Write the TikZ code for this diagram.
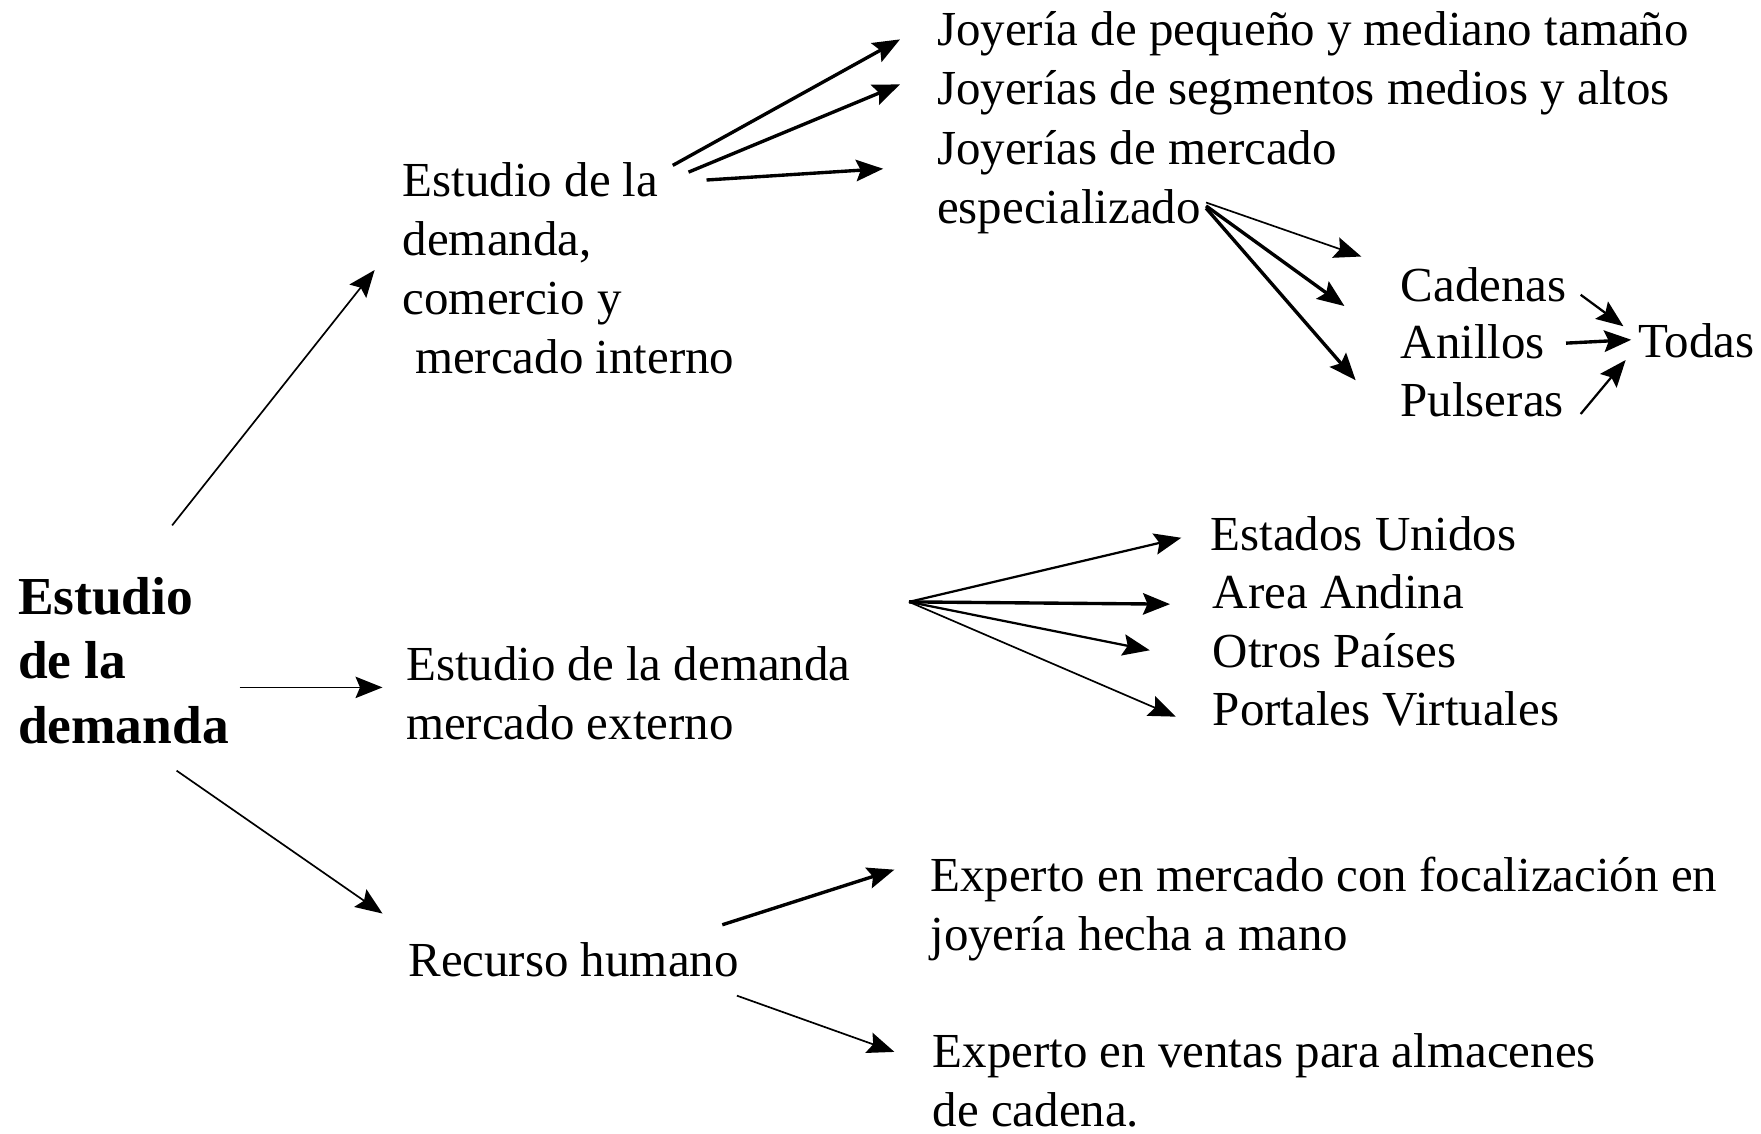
\documentclass[tikz,border=0pt]{standalone}
\usepackage{fontspec}
\setmainfont{Liberation Serif}
\usepackage{tikz}
\usetikzlibrary{arrows,arrows.meta}

\begin{document}
\begin{tikzpicture}[x=1pt,y=-1pt,->,>={Stealth[length=24pt,width=19pt,inset=4pt]},
                    line width=2pt]
  \tikzstyle{txt}=[anchor=base west,inner sep=0pt,align=left,
                   font=\fontsize{43.5}{52.5}\selectfont]
  \tikzstyle{titulo}=[txt,font=\fontsize{47.5}{57.5}\selectfont\bfseries]
  \tikzstyle{fino}=[line width=1.5pt]
  \tikzstyle{grueso}=[line width=3pt]

  \useasboundingbox (0,0) rectangle (1565.3,1007.1);

  % textos (base = ultima linea)
  \node[titulo] (dem) at (15,661) {Estudio\\de la\\demanda};
  \node[txt] (int) at (357,332) {Estudio de la\\demanda,\\comercio y\\\hspace*{11pt}mercado interno};
  \node[txt] (ext) at (360,657) {Estudio de la demanda\\mercado externo};
  \node[txt] (rh)  at (362,868) {Recurso humano};

  \node[txt] (j1) at (832,40)  {Joyería de pequeño y mediano tamaño};
  \node[txt] (j2) at (832,93)  {Joyerías de segmentos medios y altos};
  \node[txt] (j3) at (832,199) {Joyerías de mercado\\especializado};

  \node[txt] (cad) at (1244,268) {Cadenas};
  \node[txt] (ani) at (1244,319) {Anillos};
  \node[txt] (pul) at (1244,370) {Pulseras};
  \node[txt] (tod) at (1455,318) {Todas};

  \node[txt] (eu) at (1075,489) {Estados Unidos};
  \node[txt] (aa) at (1077,541) {Area Andina};
  \node[txt] (op) at (1077,593) {Otros Países};
  \node[txt] (pv) at (1077,645) {Portales Virtuales};

  \node[txt] (e1) at (826,845) {Experto en mercado con focalización en\\joyería hecha a mano};
  \node[txt] (e2) at (828,1001) {Experto en ventas para almacenes\\de cadena.};

  % extremos de las flechas
  \coordinate (dem-n) at (153,467);
  \coordinate (dem-e) at (213,611);
  \coordinate (dem-s) at (157,685);
  \coordinate (int-w) at (333,240);
  \coordinate (ext-w) at (340,611);
  \coordinate (rh-w)  at (340,812);

  \coordinate (int-a) at (598,147);
  \coordinate (int-b) at (612,153);
  \coordinate (int-c) at (628,160);
  \coordinate (j1-w)  at (800,35);
  \coordinate (j2-w)  at (800,75);
  \coordinate (j3-w)  at (785,150);

  \coordinate (esp-a) at (1072,180);
  \coordinate (esp-b) at (1072,183);
  \coordinate (esp-c) at (1072,185);
  \coordinate (esp-1) at (1210,228);
  \coordinate (esp-2) at (1195,272);
  \coordinate (esp-3) at (1205,338);

  \coordinate (cad-e) at (1405,262);
  \coordinate (ani-e) at (1392,305);
  \coordinate (pul-e) at (1405,368);
  \coordinate (tod-a) at (1443,290);
  \coordinate (tod-b) at (1450,302);
  \coordinate (tod-c) at (1445,320);

  \coordinate (ext-e) at (808,535);
  \coordinate (eu-w)  at (1050,478);
  \coordinate (aa-w)  at (1040,537);
  \coordinate (op-w)  at (1022,578);
  \coordinate (pv-w)  at (1045,637);

  \coordinate (rh-a) at (642,822);
  \coordinate (rh-b) at (655,885);
  \coordinate (e1-w) at (795,773);
  \coordinate (e2-w) at (795,935);

  % flechas
  \path (dem-n) edge[fino] (int-w)
        (dem-e) edge[fino] (ext-w)
        (dem-s) edge[fino] (rh-w);

  \path (int-a) edge[grueso] (j1-w)
        (int-b) edge[grueso] (j2-w)
        (int-c) edge[grueso] (j3-w);

  \path (esp-a) edge[fino] (esp-1)
        (esp-b) edge[grueso] (esp-2)
        (esp-c) edge[grueso] (esp-3);

  \path (cad-e) edge (tod-a)
        (ani-e) edge[grueso] (tod-b)
        (pul-e) edge (tod-c);

  \path (ext-e) edge (eu-w)
        (ext-e) edge[grueso] (aa-w)
        (ext-e) edge (op-w)
        (ext-e) edge[fino] (pv-w);

  \path (rh-a) edge[grueso] (e1-w)
        (rh-b) edge[fino] (e2-w);

\end{tikzpicture}
\end{document}
